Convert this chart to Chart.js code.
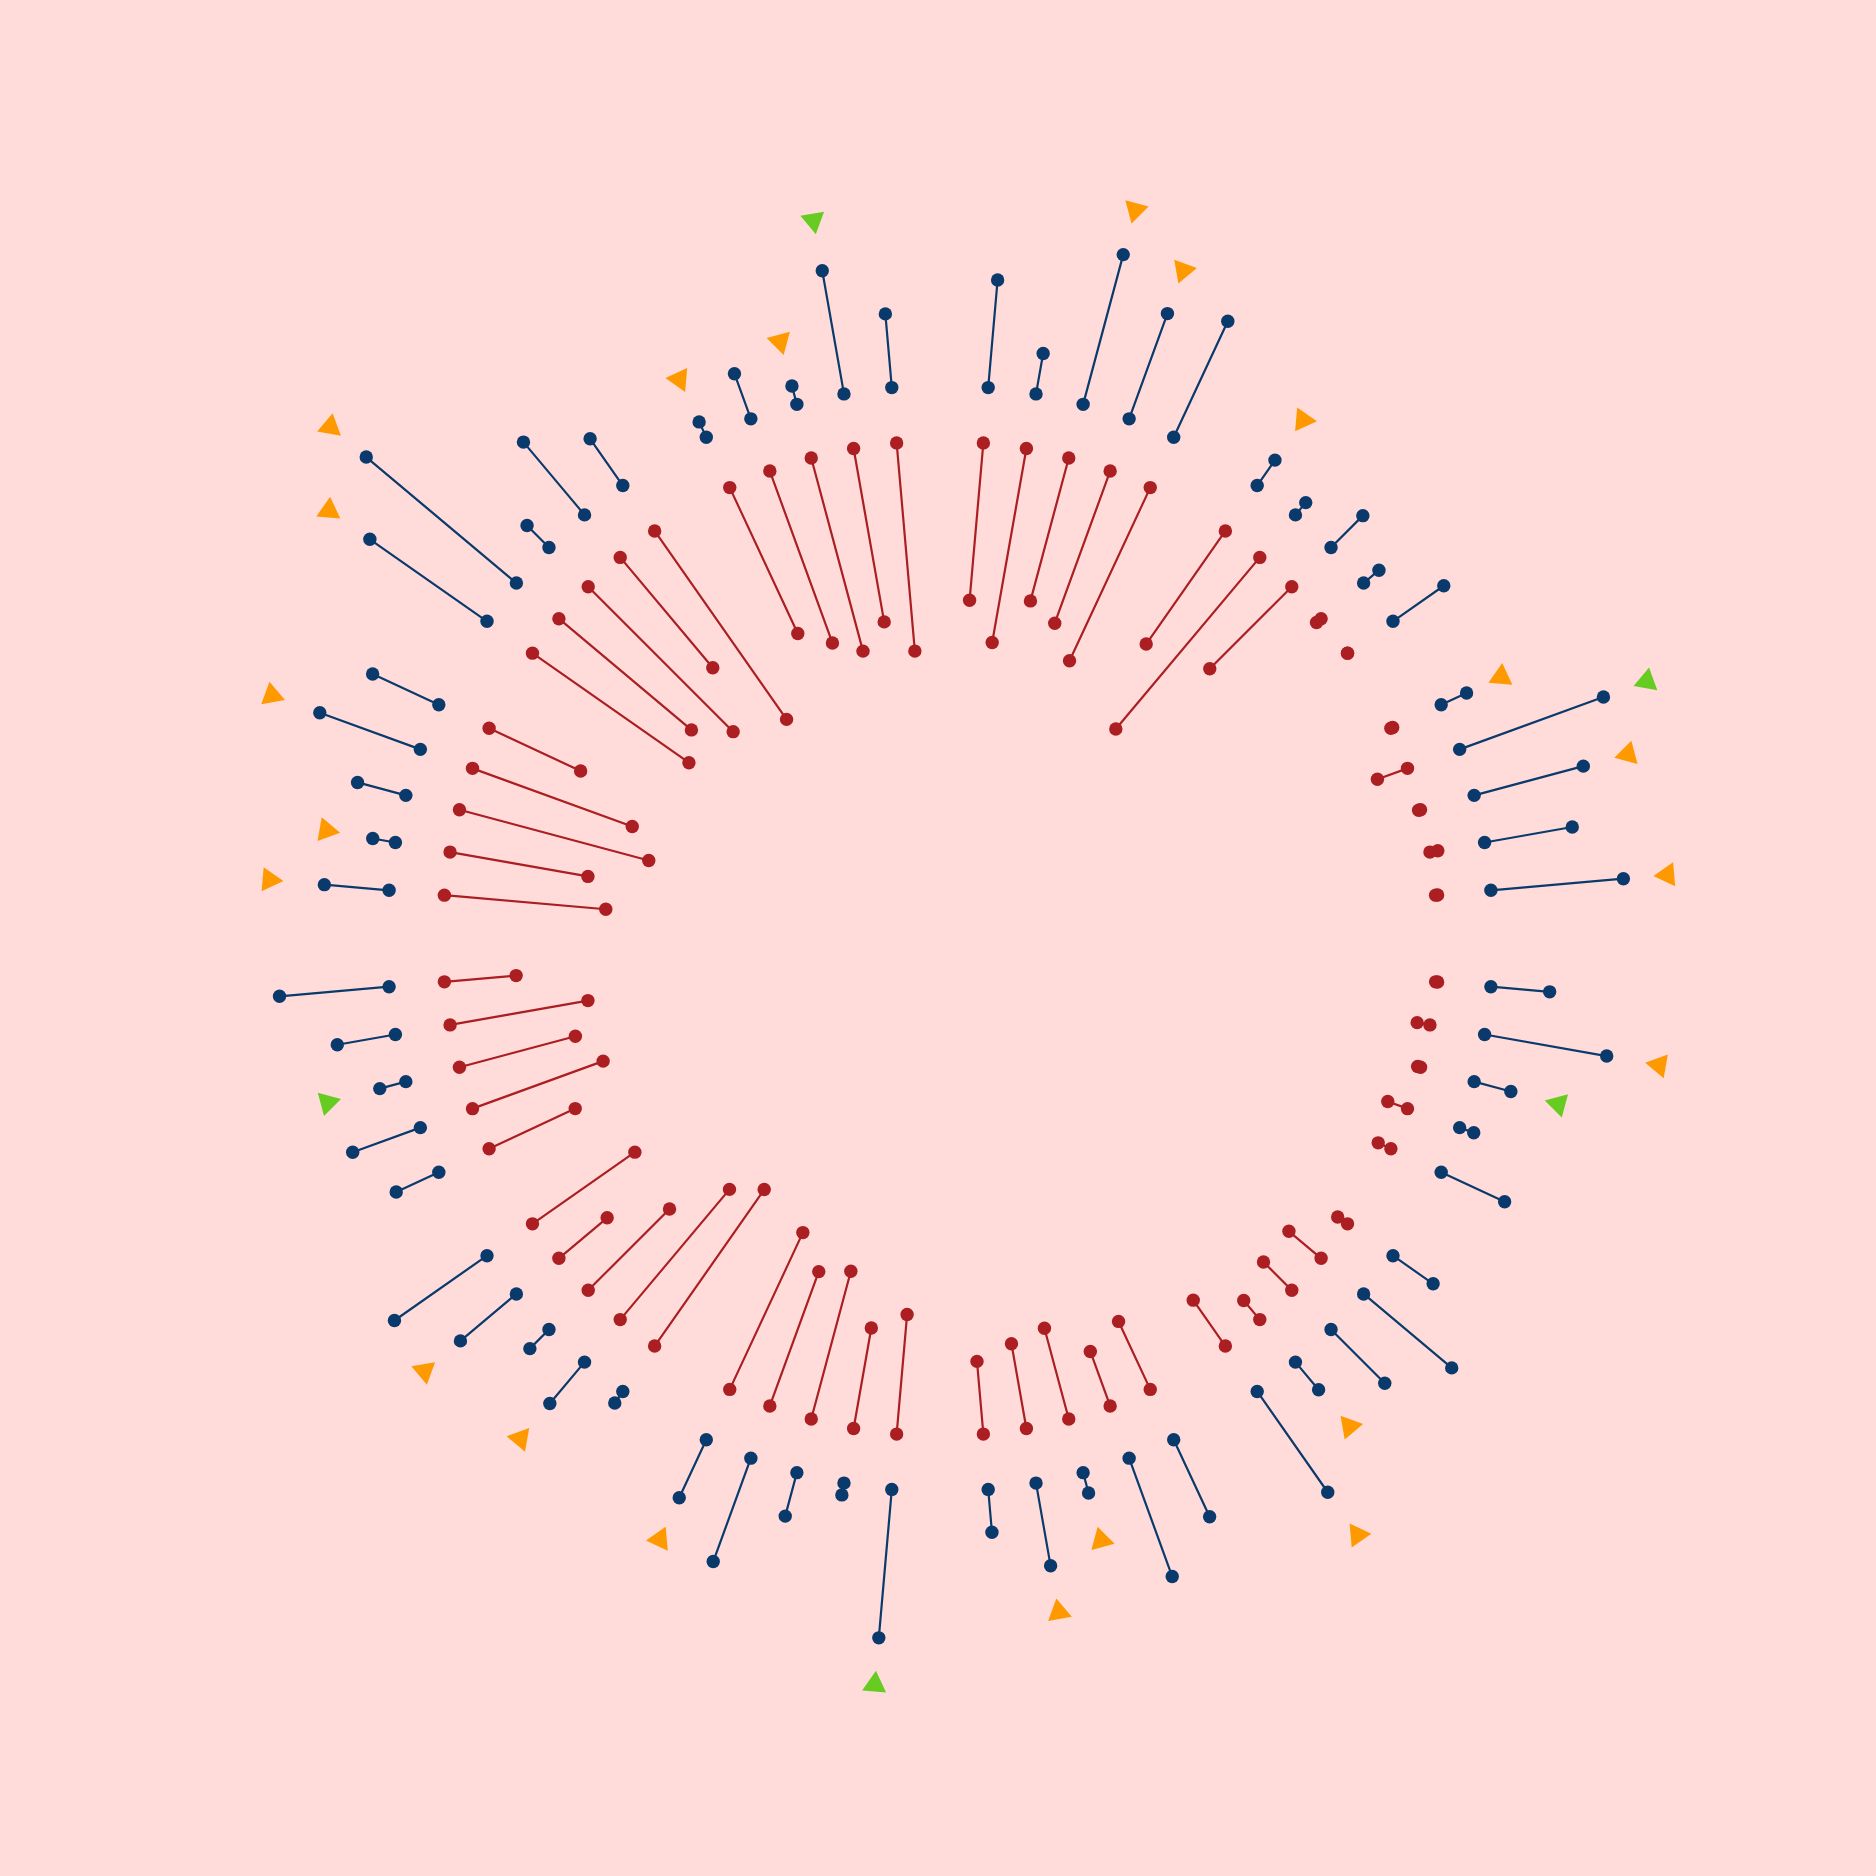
<!DOCTYPE html>
<html>
<head>
<meta charset="utf-8">
<script src="https://cdn.jsdelivr.net/npm/chart.js@4.4.1/dist/chart.umd.min.js"></script>
<style>
    html, body { margin: 0; padding: 0; background: #FFDCDA; }
    #wrap { width: 1876px; height: 1876px; }
</style>
</head>
<body>
<div id="wrap"><canvas id="chart" width="1876" height="1876"></canvas></div>
<script>
// 60 items, 12 groups of 5, read clockwise from the top
const groups = ['G1', 'G2', 'G3', 'G4', 'G5', 'G6', 'G7', 'G8', 'G9', 'G10', 'G11', 'G12'];
const perGroup = 5;

// inner series (red), drawn inward from its ring
const redValues = [
    158, 197, 148, 162, 191,
    138, 224, 116, 6, 0,
    -2, 32, 2, -8, -2,
    -2, 13, 3, 21, 14,
    12, 42, 40, 25, 56,
    75, 58, 94, 86, 73,
    120, 102, 153, 143, 173,
    191, 170, 115, 63, 125,
    95, 139, 120, 140, 72,
    162, 140, 196, 170, 101,
    191, 173, 205, 144, 230,
    161, 183, 200, 176, 209
];

// outer series (blue), drawn outward from its ring
const blueValues = [
    108, 41, 155, 112, 128,
    31, 16, 45, 20, 62,
    28, 153, 113, 89, 133,
    59, 124, 38, 15, 70,
    49, 115, 76, 36, 123,
    85, 126, 21, 84, 43,
    149, 12, 45, 110, 64,
    14, 54, 27, 73, 113,
    47, 72, 27, 59, 110,
    65, 23, 50, 107, 73,
    143, 196, 31, 95, 57,
    17, 48, 19, 125, 74
];

// flags: 'o' orange, 'g' green, '' none
const flags = [
    '', '', 'o', 'o', '',
    'o', '', '', '', '',
    'o', 'g', 'o', '', 'o',
    '', 'o', 'g', '', '',
    '', '', '', 'o', 'o',
    '', '', 'o', 'o', '',
    'g', '', '', '', 'o',
    '', 'o', '', 'o', '',
    '', '', 'g', '', '',
    'o', 'o', '', 'o', '',
    'o', 'o', '', '', '',
    'o', '', 'o', 'g', ''
];

// distance of each flag beyond the blue end
const flagGaps = [
    0, 0, 46, 46, 0,
    49, 0, 0, 0, 0,
    38, 46, 46, 0, 44,
    0, 53, 49, 0, 0,
    0, 0, 0, 48, 52,
    0, 0, 49, 47, 0,
    47, 0, 0, 0, 46,
    0, 46, 0, 47, 0,
    0, 0, 54, 0, 0,
    55, 47, 0, 51, 0,
    50, 47, 0, 0, 0,
    47, 0, 46, 51, 0
];

const RED_RING = 497.5;
const BLUE_RING = 553;

const NAVY = '#0A3A6C';
const RED = '#AB1E22';
const ORANGE = '#FF9900';
const GREEN = '#66CC22';

// 5 degree slots, one empty slot between groups
function angleOf(i) {
    const slot = i + Math.floor(i / perGroup) + 1;
    return slot * 360 / (groups.length * (perGroup + 1));
}

function polar(deg, r) {
    const a = deg * Math.PI / 180;
    return { x: r * Math.sin(a), y: r * Math.cos(a) };
}

const redPts = [];
const bluePts = [];
const flagPts = [];
const flagColors = [];
const flagRot = [];

redValues.forEach((v, i) => {
    const deg = angleOf(i);
    redPts.push(polar(deg, RED_RING - v), polar(deg, RED_RING), { x: null, y: null });

    const b = blueValues[i];
    bluePts.push(polar(deg, BLUE_RING), polar(deg, BLUE_RING + b), { x: null, y: null });

    if (flags[i]) {
        flagPts.push(polar(deg, BLUE_RING + b + flagGaps[i]));
        flagColors.push(flags[i] === 'g' ? GREEN : ORANGE);
        flagRot.push(deg + 180);   // pointing at the centre
    }
});

const segStyle = {
    type: 'line',
    borderWidth: 2.2,
    pointRadius: 6.7,
    pointBorderWidth: 0,
    pointHoverRadius: 6.7,
    spanGaps: false,
    fill: false,
    tension: 0
};

new Chart(document.getElementById('chart'), {
    type: 'scatter',
    data: {
        datasets: [
            Object.assign({}, segStyle, {
                label: 'red',
                data: redPts,
                borderColor: RED,
                pointBackgroundColor: RED
            }),
            Object.assign({}, segStyle, {
                label: 'blue',
                data: bluePts,
                borderColor: NAVY,
                pointBackgroundColor: NAVY
            }),
            {
                label: 'flags',
                data: flagPts,
                showLine: false,
                pointStyle: 'triangle',
                pointRadius: 13.9,
                pointHoverRadius: 13.9,
                pointBorderWidth: 0,
                pointBackgroundColor: flagColors,
                pointRotation: flagRot
            }
        ]
    },
    options: {
        responsive: false,
        animation: false,
        layout: { padding: 0, autoPadding: false },
        scales: {
            x: { type: 'linear', min: -940, max: 936, display: false },
            y: { type: 'linear', min: -937.5, max: 938.5, display: false }
        },
        plugins: {
            legend: { display: false },
            tooltip: { enabled: false }
        }
    }
});
</script>
</body>
</html>
